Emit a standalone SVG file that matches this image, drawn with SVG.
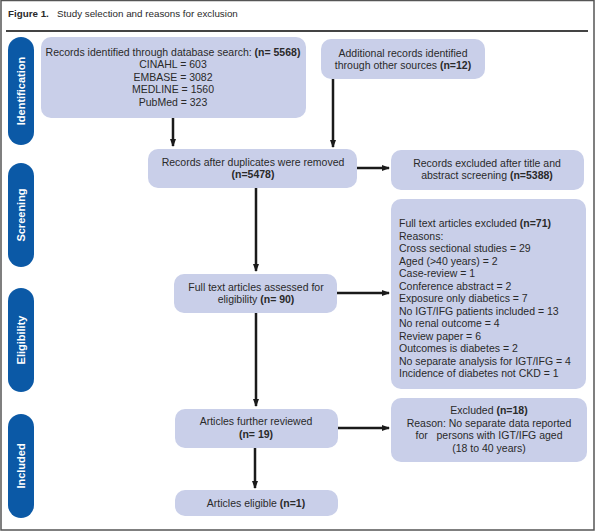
<svg xmlns="http://www.w3.org/2000/svg" width="595" height="531" viewBox="0 0 595 531">
<defs>
<marker id="ah" markerWidth="8" markerHeight="6" refX="7" refY="3" orient="auto" markerUnits="userSpaceOnUse">
<path d="M0,0 L8,3 L0,6 z" fill="#1a1a1a"/>
</marker>
<style>
.box{fill:#c9cfe9;}
.pill{fill:#0b59a6;}
.t{font-family:"Liberation Sans",Arial,sans-serif;font-size:10.5px;fill:#2a2a2a;}
.c{text-anchor:middle;}
.b{font-weight:bold;}
.pl{font-family:"Liberation Sans",Arial,sans-serif;font-size:11px;font-weight:bold;fill:#ffffff;text-anchor:middle;}
.con{stroke:#1a1a1a;stroke-width:2.5;fill:none;marker-end:url(#ah);}
</style>
</defs>
<rect x="0" y="0" width="595" height="531" fill="#ffffff"/>
<rect x="1" y="0.5" width="593" height="529.5" fill="none" stroke="#555" stroke-width="1.5"/>
<text x="8" y="17" class="t b" style="font-size:9.8px">Figure 1.</text>
<text x="57" y="17" class="t" style="font-size:9.8px">Study selection and reasons for exclusion</text>
<line x1="6" y1="31" x2="588" y2="31" stroke="#444" stroke-width="2"/>

<g id="lane-identification"><rect class="pill" x="8" y="37" width="26" height="108" rx="13"/><text class="pl" transform="translate(25,91) rotate(-90)">Identification</text></g>
<g id="lane-screening"><rect class="pill" x="8" y="163" width="26" height="104" rx="13"/><text class="pl" transform="translate(25,215) rotate(-90)">Screening</text></g>
<g id="lane-eligibility"><rect class="pill" x="8" y="288" width="26" height="104" rx="13"/><text class="pl" transform="translate(25,340) rotate(-90)">Eligibility</text></g>
<g id="lane-included"><rect class="pill" x="8" y="414" width="26" height="104" rx="13"/><text class="pl" transform="translate(25,466) rotate(-90)">Included</text></g>

<g id="n1"><rect class="box" x="41" y="37" width="265" height="81" rx="10"/>
<text class="t c" x="173" y="56">Records identified through database search: <tspan class="b">(n= 5568)</tspan></text>
<text class="t c" x="173" y="68.4">CINAHL = 603</text>
<text class="t c" x="173" y="80.8">EMBASE = 3082</text>
<text class="t c" x="173" y="93.2">MEDLINE = 1560</text>
<text class="t c" x="173" y="105.6">PubMed = 323</text></g>

<g id="n2"><rect class="box" x="321" y="39" width="164" height="40" rx="10"/>
<text class="t c" x="403" y="57">Additional records identified</text>
<text class="t c" x="403" y="69.4">through other sources <tspan class="b">(n=12)</tspan></text></g>

<g id="n3"><rect class="box" x="148" y="149" width="209" height="39" rx="10"/>
<text class="t c" x="253" y="166">Records after duplicates were removed</text>
<text class="t c b" x="253" y="178.4">(n=5478)</text></g>

<g id="n4"><rect class="box" x="391" y="150" width="193" height="40" rx="10"/>
<text class="t c" x="487" y="167">Records excluded after title and</text>
<text class="t c" x="487" y="179.4">abstract screening <tspan class="b">(n=5388)</tspan></text></g>

<g id="n5"><rect class="box" x="174" y="274" width="163" height="39" rx="10"/>
<text class="t c" x="256" y="290.5">Full text articles assessed for</text>
<text class="t c" x="256" y="302.9">eligibility <tspan class="b">(n= 90)</tspan></text></g>

<g id="n6"><rect class="box" x="391" y="199" width="195" height="190" rx="10"/>
<text class="t" x="399" y="227">Full text articles excluded <tspan class="b">(n=71)</tspan></text>
<text class="t" x="399" y="239.5">Reasons:</text>
<text class="t" x="399" y="252">Cross sectional studies = 29</text>
<text class="t" x="399" y="264.5">Aged (&gt;40 years) = 2</text>
<text class="t" x="399" y="277">Case-review = 1</text>
<text class="t" x="399" y="289.5">Conference abstract = 2</text>
<text class="t" x="399" y="302">Exposure only diabetics = 7</text>
<text class="t" x="399" y="314.5">No IGT/IFG patients included = 13</text>
<text class="t" x="399" y="327">No renal outcome = 4</text>
<text class="t" x="399" y="339.5">Review paper = 6</text>
<text class="t" x="399" y="352">Outcomes is diabetes = 2</text>
<text class="t" x="399" y="364.5">No separate analysis for IGT/IFG = 4</text>
<text class="t" x="399" y="377">Incidence of diabetes not CKD = 1</text></g>

<g id="n7"><rect class="box" x="175" y="409" width="163" height="39" rx="10"/>
<text class="t c" x="256" y="425">Articles further reviewed</text>
<text class="t c b" x="256" y="437.5">(n= 19)</text></g>

<g id="n8"><rect class="box" x="391" y="398" width="196" height="64" rx="10"/>
<text class="t c" x="489" y="414">Excluded <tspan class="b">(n=18)</tspan></text>
<text class="t c" x="489" y="426.5">Reason: No separate data reported</text>
<text class="t c" x="489" y="439" xml:space="preserve">for   persons with IGT/IFG aged</text>
<text class="t c" x="489" y="451.5">(18 to 40 years)</text></g>

<g id="n9"><rect class="box" x="175" y="490" width="163" height="26" rx="10"/>
<text class="t c" x="256" y="506.5">Articles eligible <tspan class="b">(n=1)</tspan></text></g>

<g id="connectors">
<line class="con" x1="173" y1="118" x2="173" y2="146"/>
<line class="con" x1="333" y1="79" x2="333" y2="147"/>
<line class="con" x1="357" y1="168" x2="389" y2="168"/>
<line class="con" x1="256" y1="188" x2="256" y2="271"/>
<line class="con" x1="337" y1="293" x2="389" y2="293"/>
<line class="con" x1="256" y1="313" x2="256" y2="406"/>
<line class="con" x1="338" y1="428" x2="389" y2="428"/>
<line class="con" x1="255" y1="448" x2="255" y2="488"/>
</g>
</svg>
